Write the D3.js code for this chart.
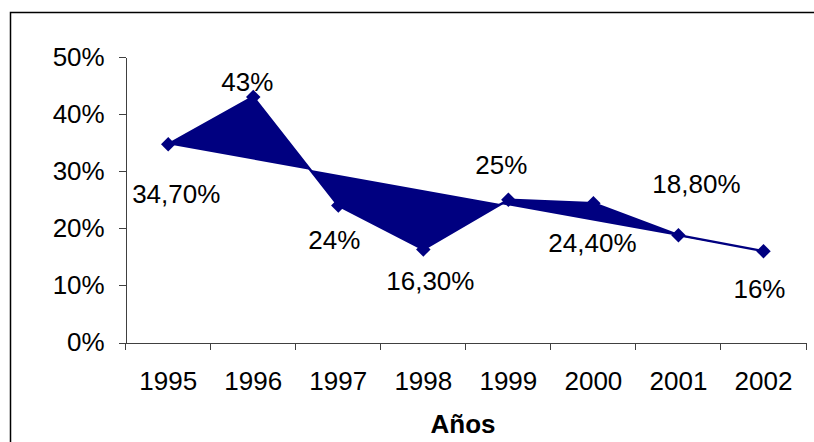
<!DOCTYPE html>
<meta charset='utf-8'>
<style>
    body { margin: 0; background: #fff; }
    svg { display: block; font-family: 'Liberation Sans', Arial, sans-serif; }
    .axis path, .axis line { stroke: #404040; shape-rendering: crispEdges; }
    .axis text { font-size: 26px; fill: #000; }
</style>
<body>
<script src='https://cdn.jsdelivr.net/npm/d3@7'></script>
<script>
    const years = [ '1995', '1996', '1997', '1998', '1999', '2000', '2001', '2002' ];
    const values = [ 34.7, 43, 24, 16.3, 25, 24.4, 18.8, 16 ];
    const labels = [ '34,70%', '43%', '24%', '16,30%', '25%', '24,40%', '18,80%', '16%' ];
    const yTicks = [ 0, 10, 20, 30, 40, 50 ];

    // label offsets from each point (dx, dy to baseline)
    const labelOffsets = [ [ 8, 59 ], [ -6, -6 ], [ -4, 44 ], [ 7, 41 ], [ -7, -26 ], [ -1, 49 ], [ 18, -42 ], [ -4, 47 ] ];

    const W = 814, H = 442;
    const plot = { left: 125.7, right: 806, top: 57, bottom: 342.5 };
    const navy = '#000080';

    const svg = d3.select( 'body' ).append( 'svg' )
        .attr( 'width', W )
        .attr( 'height', H );

    // chart border
    svg.append( 'rect' )
        .attr( 'x', 10.5 ).attr( 'y', 12.5 )
        .attr( 'width', W ).attr( 'height', H )
        .attr( 'fill', 'none' )
        .attr( 'stroke', '#000' )
        .attr( 'stroke-width', 1.5 );

    const x = d3.scaleBand()
        .domain( years )
        .range( [ plot.left, plot.right ] );
    const y = d3.scaleLinear()
        .domain( [ 0, 50 ] )
        .range( [ plot.bottom, plot.top ] );

    const cx = d => x( d ) + x.bandwidth() / 2;

    // Axes
    svg.append( 'g' )
        .attr( 'class', 'axis' )
        .attr( 'transform', `translate( ${plot.left}, 0 )` )
        .call( d3.axisLeft( y ).tickValues( yTicks ).tickSize( 7 ).tickSizeOuter( 0 ).tickPadding( 14 ).tickFormat( d => d + '%' ) );

    const xAxis = svg.append( 'g' )
        .attr( 'class', 'axis' )
        .attr( 'transform', `translate( 0, ${plot.bottom} )` )
        .call( d3.axisBottom( x ).tickSize( 0 ).tickSizeOuter( 0 ).tickPadding( 0 ) );
    xAxis.selectAll( '.tick text' )
        .attr( 'dy', null )
        .attr( 'y', 47.5 );

    // category separators
    const edges = years.map( d => x( d ) ).concat( [ plot.right ] );
    xAxis.selectAll( '.sep' )
        .data( edges )
        .enter().append( 'line' )
            .attr( 'class', 'sep' )
            .attr( 'x1', d => d ).attr( 'x2', d => d )
            .attr( 'y1', 0 ).attr( 'y2', 7 );

    // axis title
    svg.append( 'text' )
        .attr( 'x', 463 )
        .attr( 'y', 433 )
        .attr( 'text-anchor', 'middle' )
        .attr( 'font-size', 26 )
        .attr( 'font-weight', 'bold' )
        .text( 'Años' );

    const pts = years.map( ( d, i ) => [ cx( d ), y( values[ i ] ) ] );

    // filled closed shape
    svg.append( 'path' )
        .attr( 'd', d3.line()( pts ) + 'Z' )
        .attr( 'fill', navy );

    // line
    svg.append( 'path' )
        .attr( 'd', d3.line()( pts ) )
        .attr( 'fill', 'none' )
        .attr( 'stroke', navy )
        .attr( 'stroke-width', 2.5 );

    // markers
    svg.selectAll( '.marker' )
        .data( pts )
        .enter().append( 'path' )
            .attr( 'class', 'marker' )
            .attr( 'd', d3.symbol( d3.symbolSquare, 105 ) )
            .attr( 'transform', d => `translate( ${d[0]}, ${d[1]} ) rotate(45)` )
            .attr( 'fill', navy );

    // data labels
    svg.selectAll( '.label' )
        .data( pts )
        .enter().append( 'text' )
            .attr( 'class', 'label' )
            .attr( 'x', ( d, i ) => d[0] + labelOffsets[ i ][0] )
            .attr( 'y', ( d, i ) => d[1] + labelOffsets[ i ][1] )
            .attr( 'text-anchor', 'middle' )
            .attr( 'font-size', 26 )
            .text( ( d, i ) => labels[ i ] );
</script>
</body>
